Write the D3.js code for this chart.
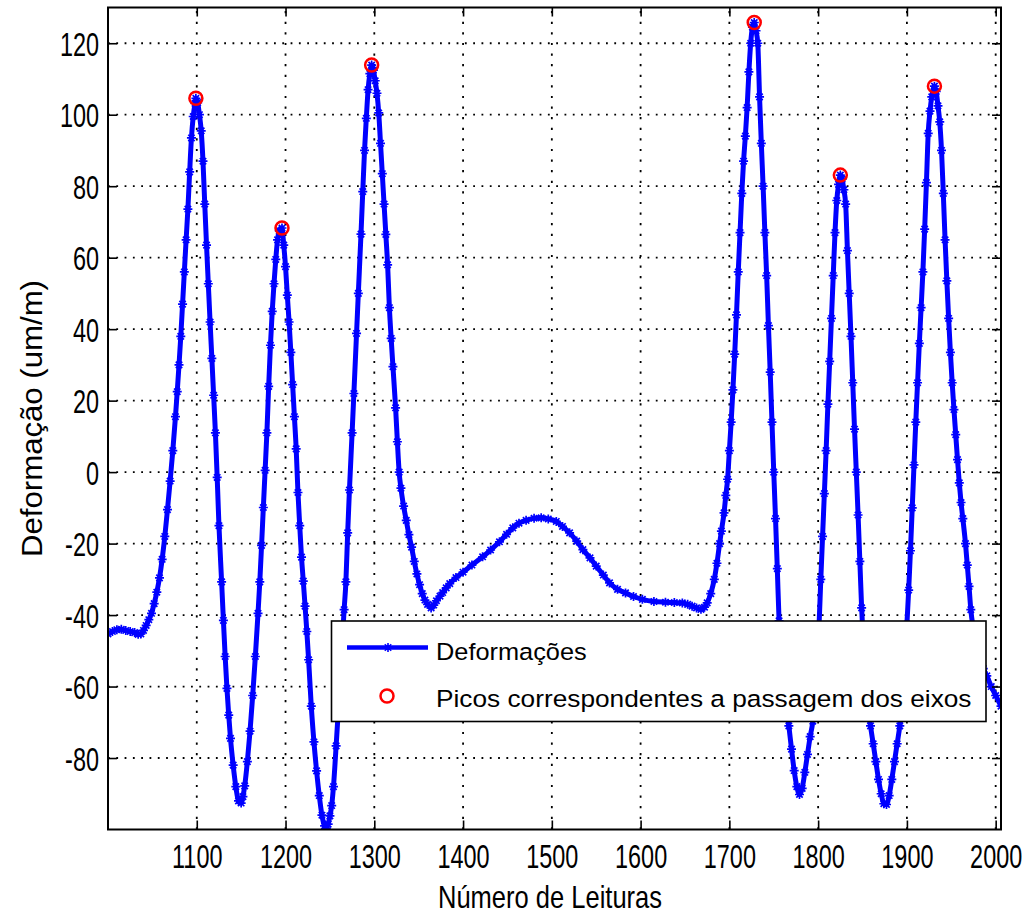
<!DOCTYPE html>
<html>
<head>
<meta charset="utf-8">
<script src="https://cdn.jsdelivr.net/npm/d3@7"></script>
<style>
  html, body { margin: 0; padding: 0; background: #fff; }
  svg { display: block; }
  text { font-family: "Liberation Sans", Arial, sans-serif; fill: #000; }
</style>
</head>
<body>
<div id="chart"></div>
<script>
// Número de leitura (eixo x) e deformação em um/m
const leituras = [
  1000, 1005, 1010, 1015, 1020, 1025, 1030, 1034, 1037, 1040, 1043, 1046, 1049, 1052, 1055, 1058,
  1061, 1064, 1067, 1070, 1073, 1076, 1078, 1080, 1082, 1084, 1086, 1088, 1090, 1092, 1094, 1096,
  1098, 1099, 1101, 1103, 1105, 1107, 1109, 1111, 1113, 1115, 1117, 1119, 1121, 1123, 1125, 1128,
  1130, 1132, 1134, 1136, 1138, 1141, 1144, 1147, 1150, 1152, 1154, 1157, 1160, 1163, 1166, 1169,
  1171, 1173, 1175, 1177, 1179, 1181, 1183, 1185, 1187, 1189, 1191, 1193, 1196, 1198, 1200, 1202,
  1204, 1206, 1208, 1210, 1212, 1214, 1216, 1218, 1220, 1222, 1224, 1226, 1229, 1232, 1235, 1238,
  1241, 1244, 1246, 1248, 1250, 1252, 1254, 1257, 1260, 1263, 1266, 1268, 1270, 1272, 1275, 1277,
  1280, 1282, 1285, 1287, 1289, 1291, 1293, 1295, 1297, 1299, 1301, 1303, 1305, 1307, 1309, 1311,
  1313, 1315, 1317, 1319, 1321, 1324, 1326, 1328, 1330, 1333, 1336, 1339, 1342, 1345, 1348, 1351,
  1354, 1357, 1360, 1364, 1367, 1370, 1374, 1377, 1381, 1385, 1392, 1400, 1410, 1422, 1431, 1441,
  1449, 1456, 1463, 1471, 1480, 1488, 1496, 1505, 1512, 1520, 1528, 1535, 1543, 1550, 1558, 1565,
  1574, 1583, 1592, 1602, 1615, 1628, 1638, 1647, 1653, 1658, 1663, 1668, 1672, 1675, 1679, 1683,
  1686, 1689, 1691, 1694, 1696, 1698, 1700, 1702, 1704, 1706, 1708, 1710, 1712, 1714, 1716, 1718,
  1720, 1722, 1724, 1726, 1728, 1730, 1732, 1734, 1736, 1738, 1740, 1742, 1744, 1746, 1748, 1750,
  1752, 1754, 1756, 1758, 1761, 1764, 1767, 1770, 1773, 1776, 1779, 1782, 1785, 1788, 1791, 1794,
  1797, 1799, 1801, 1803, 1805, 1807, 1809, 1811, 1813, 1815, 1817, 1819, 1821, 1823, 1825, 1827,
  1829, 1831, 1833, 1835, 1837, 1839, 1841, 1843, 1845, 1847, 1849, 1851, 1853, 1856, 1859, 1862,
  1865, 1868, 1871, 1874, 1877, 1880, 1883, 1886, 1889, 1892, 1895, 1898, 1900, 1902, 1904, 1906,
  1908, 1910, 1912, 1914, 1916, 1918, 1920, 1922, 1924, 1926, 1928, 1931, 1933, 1935, 1937, 1939,
  1941, 1943, 1945, 1947, 1949, 1951, 1953, 1955, 1957, 1959, 1961, 1963, 1966, 1968, 1970, 1972,
  1975, 1978, 1982, 1986, 1990, 1995, 2000, 2006
];
const deformacoes = [
  -45.3, -44.6, -44.1, -44.0, -44.3, -44.6, -44.9, -45.4, -45.3, -44.3, -42.9, -41.3, -39.5, -36.8, -33.6, -29.6,
  -24.4, -18, -10.5, -2.5, 6, 15.5, 22.5, 30, 38, 47, 56, 65, 73.6, 84, 93.5, 99.5,
  103.2, 104.6, 103.4, 100, 95.5, 87, 75, 63.5, 52.7, 42, 31.8, 21.5, 11, -1.5, -15, -30.7,
  -41.5, -51.6, -60.5, -68, -74.5, -82, -88, -92, -92.6, -90.8, -87.8, -81, -72.5, -62.5, -51.6, -39.5,
  -30.7, -20.5, -9.9, 0.5, 11, 24, 35.5, 45, 52.7, 59.5, 65, 67.5, 68.3, 63.5, 57.5, 49.5,
  42, 33.5, 24.5, 15.5, 6.5, -5.7, -15, -23.8, -30.5, -37.5, -44.6, -52.5, -65.5, -75.5, -83.6, -90.5,
  -96, -99, -99.6, -98.5, -96.2, -93.3, -88, -76.6, -64.5, -51.6, -38.5, -30.7, -17, -5, 11, 22,
  38.8, 50, 66.6, 78.5, 90, 99, 107, 111.5, 113.9, 112.5, 109.5, 106, 100.5, 92, 83.5, 75,
  66.5, 58, 46, 37.4, 29.5, 18, 8.5, 0, -4.5, -9.5, -13.5, -17.5, -21, -25, -28.5, -31.5,
  -34, -35.8, -37, -38, -37.2, -36, -34.7, -33.7, -32.4, -31.2, -29.5, -28, -26, -23.7, -21.8, -19.5,
  -17.4, -15.6, -14.3, -13.5, -12.9, -12.8, -13.1, -13.8, -15.2, -17, -19.3, -21.7, -24, -26.3, -28.8, -31,
  -32.8, -33.8, -34.8, -35.6, -36.2, -36.4, -36.5, -36.6, -37, -37.5, -38, -38.4, -37.8, -36.6, -34, -30,
  -25.5, -20, -16.5, -11.4, -6.5, -2, 6, 14, 23, 33, 44, 56, 67, 78, 87, 94,
  102, 112, 120, 124.5, 125.8, 123.5, 120, 105, 92, 80, 67, 55, 41, 28, 14, 0,
  -13, -27, -41.6, -50, -58, -65, -71, -77.5, -83.5, -88, -90.2, -88.5, -84, -79, -74, -69.7,
  -60, -52, -43, -30, -18, -6, 6, 19, 31, 43, 55, 67, 76, 80.5, 83.1, 82,
  79, 75, 62, 50, 38, 25, 12, 0, -12, -25, -38, -48, -56, -65, -71, -76,
  -81, -86, -90, -92.8, -93, -90.5, -86, -81, -76, -71, -64, -52, -42.5, -33, -22, -10,
  2, 14, 25, 36, 46, 56, 68, 81, 94.8, 101, 105, 108, 106.5, 102.5, 98, 90,
  78, 65, 53.5, 43, 33.5, 25, 17.5, 10.5, 3.5, -3, -8.5, -13, -20, -26, -32, -38.5,
  -44, -48, -52, -55, -57, -60, -62.5, -65.5
];

// picos (passagem dos eixos)
const picosLeitura = [1099, 1196, 1297, 1728, 1825, 1931];
const picosValor = [104.6, 68.3, 113.9, 125.8, 83.1, 108];

const xTicks = [1100, 1200, 1300, 1400, 1500, 1600, 1700, 1800, 1900, 2000];
const yTicks = [-80, -60, -40, -20, 0, 20, 40, 60, 80, 100, 120];
const legendaTextos = ["Deformações", "Picos correspondentes a passagem dos eixos"];

const dados = leituras.map((l, i) => ({ l: l, v: deformacoes[i] }));
const picos = picosLeitura.map((l, i) => ({ l: l, v: picosValor[i] }));

const margin = { top: 7.5, right: 26, bottom: 84.5, left: 108 };
const totalW = 1027, totalH = 914;
const width = totalW - margin.left - margin.right;   // 893
const height = totalH - margin.top - margin.bottom;  // 822

const svg = d3.select("#chart").append("svg")
    .attr("width", totalW)
    .attr("height", totalH);

const g = svg.append("g")
    .attr("transform", `translate(${margin.left},${margin.top})`);

const x = d3.scaleLinear().domain([1000, 2006]).range([0, width]);
const y = d3.scaleLinear().domain([-100, 130]).range([height, 0]);

// rótulos como no original: sem separador de milhar, hífen simples
const fmt = d => String(d);
// fonte dos números é estreita e alta no original -> compressão horizontal
const sx = 0.69;

// grade pontilhada
g.append("g").selectAll("line")
    .data(yTicks)
    .join("line")
      .attr("x1", 0).attr("x2", width)
      .attr("y1", d => y(d)).attr("y2", d => y(d))
      .attr("stroke", "#000")
      .attr("stroke-width", 1.8)
      .attr("stroke-dasharray", "1.8,6.5");

g.append("g").selectAll("line")
    .data(xTicks)
    .join("line")
      .attr("x1", d => x(d)).attr("x2", d => x(d))
      .attr("y1", height).attr("y2", 0)
      .attr("stroke", "#000")
      .attr("stroke-width", 1.8)
      .attr("stroke-dasharray", "2.2,8.4");

// recorte da área do gráfico
svg.append("defs").append("clipPath")
    .attr("id", "area")
  .append("rect")
    .attr("width", width)
    .attr("height", height);

const plot = g.append("g").attr("clip-path", "url(#area)");

const linha = d3.line()
    .x(d => x(d.l))
    .y(d => y(d.v))
    .curve(d3.curveMonotoneX);

plot.append("path")
    .datum(dados)
    .attr("fill", "none")
    .attr("stroke", "#0000ff")
    .attr("stroke-width", 5)
    .attr("stroke-linejoin", "round")
    .attr("d", linha);

const asterisco = "M-4.5,0H4.5M0,-4.5V4.5M-3.2,-3.2L3.2,3.2M-3.2,3.2L3.2,-3.2";

plot.append("g").selectAll("path")
    .data(dados)
    .join("path")
      .attr("transform", d => `translate(${x(d.l)},${y(d.v)})`)
      .attr("d", asterisco)
      .attr("stroke", "#0000ff")
      .attr("stroke-width", 1.7)
      .attr("fill", "none");

plot.append("g").selectAll("circle")
    .data(picos)
    .join("circle")
      .attr("cx", d => x(d.l))
      .attr("cy", d => y(d.v))
      .attr("r", 6.5)
      .attr("fill", "none")
      .attr("stroke", "#ff0000")
      .attr("stroke-width", 2.5);

// eixos (ticks para dentro, em todos os lados)
const tick = 9;

const xAxis = g.append("g")
    .attr("transform", `translate(0,${height})`)
    .call(d3.axisBottom(x).tickValues(xTicks).tickFormat(fmt).tickSizeInner(-tick).tickSizeOuter(0));
xAxis.selectAll("text")
    .attr("y", 38.5)
    .attr("dy", null)
    .attr("font-size", 34)
    .attr("transform", `scale(${sx},1)`);

const yAxis = g.append("g")
    .call(d3.axisLeft(y).tickValues(yTicks).tickFormat(fmt).tickSizeInner(-tick).tickSizeOuter(0));
yAxis.selectAll("text")
    .attr("x", -9 / sx)
    .attr("y", 12)
    .attr("dy", null)
    .attr("font-size", 34)
    .attr("transform", `scale(${sx},1)`);

g.append("g")
    .call(d3.axisTop(x).tickValues(xTicks).tickSizeInner(-tick).tickSizeOuter(0).tickFormat(""));

g.append("g")
    .attr("transform", `translate(${width},0)`)
    .call(d3.axisRight(y).tickValues(yTicks).tickSizeInner(-tick).tickSizeOuter(0).tickFormat(""));

g.selectAll(".domain").remove();
g.selectAll(".tick line").attr("stroke", "#000").attr("stroke-width", 1.6);
g.selectAll(".tick text").attr("font-family", null).attr("fill", "#000");

g.append("rect")
    .attr("width", width)
    .attr("height", height)
    .attr("fill", "none")
    .attr("stroke", "#000")
    .attr("stroke-width", 2);

// títulos dos eixos
svg.append("text")
    .attr("x", 550)
    .attr("y", 908)
    .attr("text-anchor", "middle")
    .attr("font-size", 32)
    .attr("textLength", 224)
    .attr("lengthAdjust", "spacingAndGlyphs")
    .text("Número de Leituras");

svg.append("text")
    .attr("transform", `translate(41.5,${margin.top + height / 2}) rotate(-90)`)
    .attr("text-anchor", "middle")
    .attr("font-size", 30)
    .attr("textLength", 277)
    .attr("lengthAdjust", "spacingAndGlyphs")
    .text("Deformação (um/m)");

// legenda
const leg = svg.append("g");
leg.append("rect")
    .attr("x", 331.5).attr("y", 621)
    .attr("width", 654.5).attr("height", 100.5)
    .attr("fill", "#fff")
    .attr("stroke", "#000")
    .attr("stroke-width", 1.6);

leg.append("line")
    .attr("x1", 347).attr("x2", 428)
    .attr("y1", 647.5).attr("y2", 647.5)
    .attr("stroke", "#0000ff")
    .attr("stroke-width", 4.5);
leg.append("path")
    .attr("transform", "translate(388,647.5)")
    .attr("d", asterisco)
    .attr("stroke", "#0000ff")
    .attr("stroke-width", 1.6);
leg.append("circle")
    .attr("cx", 387).attr("cy", 696)
    .attr("r", 6.5)
    .attr("fill", "none")
    .attr("stroke", "#ff0000")
    .attr("stroke-width", 2.5);

leg.selectAll("text")
    .data(legendaTextos)
    .join("text")
      .attr("x", 436)
      .attr("y", (d, i) => i === 0 ? 659.5 : 707)
      .attr("font-size", 24.5)
      .attr("textLength", (d, i) => i === 0 ? 150.7 : 535.5)
      .attr("lengthAdjust", "spacingAndGlyphs")
      .text(d => d);
</script>
</body>
</html>
